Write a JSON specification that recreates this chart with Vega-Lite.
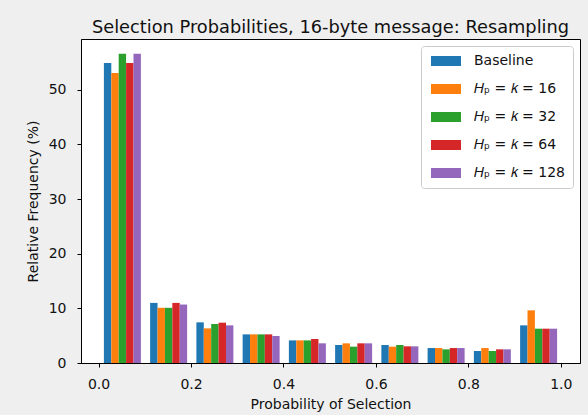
{
  "$schema": "https://vega.github.io/schema/vega-lite/v6.json",
  "width": 499,
  "height": 324,
  "autosize": {"type": "none"},
  "padding": {"left": 81, "top": 39, "right": 8, "bottom": 52},
  "background": "#efefef",
  "title": {
    "text": "Selection Probabilities, 16-byte message: Resampling",
    "font": "DejaVu Sans",
    "fontSize": 17.8,
    "fontWeight": "normal",
    "color": "#111",
    "anchor": "middle",
    "frame": "group",
    "baseline": "alphabetic",
    "offset": 8,
    "dy": 20
  },
  "config": {
    "view": {"fill": "white", "stroke": "black", "strokeWidth": 1},
    "axis": {
      "labelFont": "DejaVu Sans",
      "titleFont": "DejaVu Sans",
      "labelFontSize": 14,
      "titleFontSize": 14,
      "labelColor": "#111",
      "titleColor": "#111",
      "titleFontWeight": "normal",
      "domainColor": "black",
      "tickColor": "black",
      "tickSize": 4,
      "grid": false
    },
    "legend": {
      "labelFont": "DejaVu Sans",
      "labelFontSize": 14,
      "labelColor": "#111"
    }
  },
  "data": {
    "values": [
      {"lo": 0.0, "series": "Baseline", "value": 54.9},
      {"lo": 0.0, "series": "𝐻ₚ = 𝑘 = 16", "value": 53.1},
      {"lo": 0.0, "series": "𝐻ₚ = 𝑘 = 32", "value": 56.6},
      {"lo": 0.0, "series": "𝐻ₚ = 𝑘 = 64", "value": 54.9},
      {"lo": 0.0, "series": "𝐻ₚ = 𝑘 = 128", "value": 56.6},
      {"lo": 0.1, "series": "Baseline", "value": 11.0},
      {"lo": 0.1, "series": "𝐻ₚ = 𝑘 = 16", "value": 10.1},
      {"lo": 0.1, "series": "𝐻ₚ = 𝑘 = 32", "value": 10.1},
      {"lo": 0.1, "series": "𝐻ₚ = 𝑘 = 64", "value": 11.0},
      {"lo": 0.1, "series": "𝐻ₚ = 𝑘 = 128", "value": 10.7},
      {"lo": 0.2, "series": "Baseline", "value": 7.44},
      {"lo": 0.2, "series": "𝐻ₚ = 𝑘 = 16", "value": 6.34},
      {"lo": 0.2, "series": "𝐻ₚ = 𝑘 = 32", "value": 7.14},
      {"lo": 0.2, "series": "𝐻ₚ = 𝑘 = 64", "value": 7.38},
      {"lo": 0.2, "series": "𝐻ₚ = 𝑘 = 128", "value": 6.89},
      {"lo": 0.3, "series": "Baseline", "value": 5.24},
      {"lo": 0.3, "series": "𝐻ₚ = 𝑘 = 16", "value": 5.24},
      {"lo": 0.3, "series": "𝐻ₚ = 𝑘 = 32", "value": 5.24},
      {"lo": 0.3, "series": "𝐻ₚ = 𝑘 = 64", "value": 5.24},
      {"lo": 0.3, "series": "𝐻ₚ = 𝑘 = 128", "value": 4.94},
      {"lo": 0.4, "series": "Baseline", "value": 4.14},
      {"lo": 0.4, "series": "𝐻ₚ = 𝑘 = 16", "value": 4.14},
      {"lo": 0.4, "series": "𝐻ₚ = 𝑘 = 32", "value": 4.14},
      {"lo": 0.4, "series": "𝐻ₚ = 𝑘 = 64", "value": 4.39},
      {"lo": 0.4, "series": "𝐻ₚ = 𝑘 = 128", "value": 3.6},
      {"lo": 0.5, "series": "Baseline", "value": 3.3},
      {"lo": 0.5, "series": "𝐻ₚ = 𝑘 = 16", "value": 3.6},
      {"lo": 0.5, "series": "𝐻ₚ = 𝑘 = 32", "value": 2.99},
      {"lo": 0.5, "series": "𝐻ₚ = 𝑘 = 64", "value": 3.6},
      {"lo": 0.5, "series": "𝐻ₚ = 𝑘 = 128", "value": 3.6},
      {"lo": 0.6, "series": "Baseline", "value": 3.3},
      {"lo": 0.6, "series": "𝐻ₚ = 𝑘 = 16", "value": 2.99},
      {"lo": 0.6, "series": "𝐻ₚ = 𝑘 = 32", "value": 3.3},
      {"lo": 0.6, "series": "𝐻ₚ = 𝑘 = 64", "value": 3.05},
      {"lo": 0.6, "series": "𝐻ₚ = 𝑘 = 128", "value": 3.05},
      {"lo": 0.7, "series": "Baseline", "value": 2.74},
      {"lo": 0.7, "series": "𝐻ₚ = 𝑘 = 16", "value": 2.74},
      {"lo": 0.7, "series": "𝐻ₚ = 𝑘 = 32", "value": 2.5},
      {"lo": 0.7, "series": "𝐻ₚ = 𝑘 = 64", "value": 2.74},
      {"lo": 0.7, "series": "𝐻ₚ = 𝑘 = 128", "value": 2.74},
      {"lo": 0.8, "series": "Baseline", "value": 2.2},
      {"lo": 0.8, "series": "𝐻ₚ = 𝑘 = 16", "value": 2.74},
      {"lo": 0.8, "series": "𝐻ₚ = 𝑘 = 32", "value": 2.2},
      {"lo": 0.8, "series": "𝐻ₚ = 𝑘 = 64", "value": 2.5},
      {"lo": 0.8, "series": "𝐻ₚ = 𝑘 = 128", "value": 2.5},
      {"lo": 0.9, "series": "Baseline", "value": 6.89},
      {"lo": 0.9, "series": "𝐻ₚ = 𝑘 = 16", "value": 9.64},
      {"lo": 0.9, "series": "𝐻ₚ = 𝑘 = 32", "value": 6.28},
      {"lo": 0.9, "series": "𝐻ₚ = 𝑘 = 64", "value": 6.28},
      {"lo": 0.9, "series": "𝐻ₚ = 𝑘 = 128", "value": 6.28}
    ]
  },
  "layer": [
    {
      "mark": {"type": "bar"},
      "encoding": {
        "x": {
          "field": "lo",
          "type": "ordinal",
          "scale": {"paddingInner": 0.2, "paddingOuter": 0.495, "align": 0.5},
          "axis": null
        },
        "xOffset": {
          "field": "series",
          "type": "nominal",
          "sort": ["Baseline", "𝐻ₚ = 𝑘 = 16", "𝐻ₚ = 𝑘 = 32", "𝐻ₚ = 𝑘 = 64", "𝐻ₚ = 𝑘 = 128"],
          "scale": {"paddingInner": 0, "paddingOuter": 0}
        },
        "y": {
          "field": "value",
          "type": "quantitative",
          "scale": {"domain": [0, 59.3], "nice": false, "zero": true},
          "axis": {
            "values": [0, 10, 20, 30, 40, 50],
            "title": "Relative Frequency (%)",
            "labelPadding": 11,
            "titlePadding": 8
          }
        },
        "color": {
          "field": "series",
          "type": "nominal",
          "scale": {
            "domain": ["Baseline", "𝐻ₚ = 𝑘 = 16", "𝐻ₚ = 𝑘 = 32", "𝐻ₚ = 𝑘 = 64", "𝐻ₚ = 𝑘 = 128"],
            "range": ["#1f77b4", "#ff7f0e", "#2ca02c", "#d62728", "#9467bd"]
          },
          "legend": {
            "title": null,
            "orient": "top-right",
            "offset": 7,
            "padding": 8,
            "fillColor": "rgba(255,255,255,0.8)",
            "strokeColor": "#cccccc",
            "cornerRadius": 3,
            "symbolType": "M-3,-1H3V1H-3Z",
            "symbolSize": 100,
            "symbolOffset": 10,
            "symbolStrokeWidth": 0,
            "symbolOpacity": 1,
            "labelOffset": 21,
            "rowPadding": 14,
            "labelLimit": 200
          }
        }
      }
    },
    {
      "mark": {"type": "point", "opacity": 0},
      "encoding": {
        "x": {
          "field": "lo",
          "type": "quantitative",
          "scale": {"domain": [-0.038, 1.0415], "nice": false, "zero": false},
          "axis": {
            "values": [0, 0.2, 0.4, 0.6, 0.8, 1.0],
            "format": ".1f",
            "title": "Probability of Selection",
            "labelPadding": 10,
            "titlePadding": 6
          }
        }
      }
    }
  ],
  "resolve": {"scale": {"x": "independent"}, "axis": {"x": "independent"}}
}
